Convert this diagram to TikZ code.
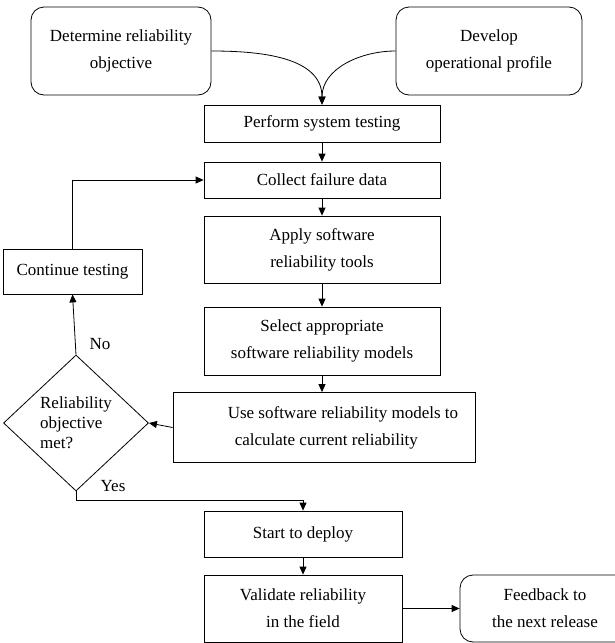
\documentclass[tikz,border=0pt]{standalone}
\usepackage{fontspec}
\setmainfont{Liberation Serif}
\usetikzlibrary{arrows.meta,positioning,shapes.geometric}

\begin{document}
\begin{tikzpicture}[
    x=1pt, y=-1pt,
    line width=0.8pt,
    font=\fontsize{17}{27}\selectfont,
    >={Triangle[length=8pt, width=7pt]},
    box/.style={draw, rectangle, align=center, inner sep=0pt},
    rbox/.style={box, rounded corners=13pt},
    decision/.style={draw, diamond, align=left, inner sep=0pt, font=\fontsize{17}{20}\selectfont},
    lbl/.style={inner sep=0pt}]
\useasboundingbox (0,0) rectangle (614,643);

\node[rbox, minimum width=180pt, minimum height=88pt] (objective) at (121,51) {Determine reliability\\objective};
\node[rbox, minimum width=186pt, minimum height=88pt] (profile) at (489,51) {Develop\\operational profile};
\node[box, minimum width=236pt, minimum height=37pt] (testing) at (322,123.5) {Perform system testing};
\node[box, minimum width=236pt, minimum height=36pt] (collect) at (322,180) {Collect failure data};
\node[box, minimum width=236pt, minimum height=67pt] (tools) at (322,249.5) {Apply software\\reliability tools};
\node[box, minimum width=236pt, minimum height=68pt] (select) at (322,341) {Select appropriate\\software reliability models};
\node[box, minimum width=302pt, minimum height=70pt, align=left] (use) at (324,427.5) {\hspace*{38pt}Use software reliability models to\\\hspace*{45pt}calculate current reliability};
\node[decision, minimum width=145pt, minimum height=136pt] (met) at (76,423) {Reliability\\objective\\met?};
\node[box, minimum width=139pt, minimum height=45pt] (continue) at (72.5,271.5) {Continue testing};
\node[box, minimum width=198pt, minimum height=46pt] (deploy) at (303,534) {Start to deploy};
\node[box, minimum width=198pt, minimum height=67pt] (validate) at (303,608.5) {Validate reliability\\in the field};
\node[rbox, minimum width=170pt, minimum height=67pt] (feedback) at (545,608.5) {Feedback to\\the next release};
\node[lbl] (no) at (100,344) {No};
\node[lbl] (yes) at (113,486) {Yes};

\path[draw, ->] (objective.east) to[out=0, in=90] (testing.north);
\path[draw, ->] (profile.west) to[out=180, in=90] (testing.north);
\path[draw, ->] (testing) -- (collect);
\path[draw, ->] (collect) -- (tools);
\path[draw, ->] (tools) -- (select);
\path[draw, ->] (select) -- (select |- use.north);
\path[draw, ->] (use.west) -- (met.east);
\path[draw, ->] (met.north) -- (continue.south);
\path[draw, ->] (continue.north) |- (collect.west);
\path[draw, ->] (met.south) -- ++(0,9) -| (deploy.north);
\path[draw, ->] (deploy) -- (validate);
\path[draw, ->] (validate) -- (feedback);

\end{tikzpicture}
\end{document}
